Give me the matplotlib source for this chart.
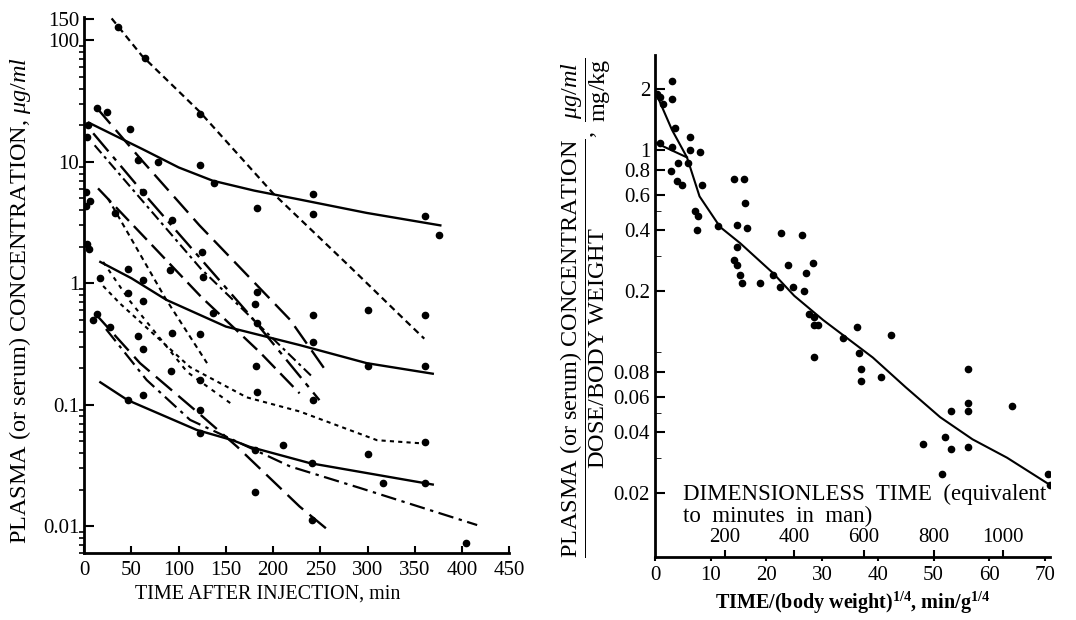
import matplotlib.pyplot as plt
from matplotlib.ticker import FixedLocator, FixedFormatter, NullFormatter, LogLocator

plt.rcParams['font.family'] = 'Liberation Serif'
plt.rcParams['mathtext.fontset'] = 'custom'
plt.rcParams['mathtext.rm'] = 'Liberation Serif'
plt.rcParams['mathtext.it'] = 'Liberation Serif:italic'
plt.rcParams['mathtext.bf'] = 'Liberation Serif:bold'

# ---- left panel: concentration vs time, several species (min, ug/ml)
t_a = [29, 61, 122, 200, 280, 337, 360]
c_a = [152, 75, 26, 5.5, 1.4, 0.52, 0.35]
t_b = [5, 62, 100, 136, 180, 228, 299, 377]
c_b = [21, 12.7, 9.0, 7.0, 5.8, 4.9, 3.8, 3.0]
t_c = [13, 60, 122, 218, 258]
c_c = [28, 10.5, 3.0, 0.50, 0.18]
t_d = [9.5, 69.5, 175, 249]
c_d = [17.2, 4.8, 0.55, 0.109]
t_e = [11, 123, 218, 240]
c_e = [13.7, 1.33, 0.255, 0.174]
t_f = [14.6, 124, 186, 228]
c_f = [6.05, 0.77, 0.27, 0.124]
t_f2 = [20, 48, 109, 157]
c_f2 = [1.5, 0.72, 0.186, 0.10]
t_f3 = [25, 34, 86, 130]
c_f3 = [5.0, 3.8, 0.75, 0.22]
t_g = [20, 38, 112, 172, 228, 310, 358]
c_g = [0.95, 0.68, 0.204, 0.115, 0.088, 0.051, 0.048]
t_h = [17, 50, 87, 150, 228, 299, 369]
c_h = [1.5, 1.1, 0.73, 0.44, 0.31, 0.22, 0.18]
t_k = [11, 59, 126, 162, 228, 258]
c_k = [0.57, 0.22, 0.079, 0.045, 0.0145, 0.0093]
t_l = [23, 66, 112, 218, 292, 416]
c_l = [0.42, 0.16, 0.075, 0.031, 0.0206, 0.0102]
t_m = [17, 46, 119, 157, 175, 239, 369]
c_m = [0.153, 0.109, 0.062, 0.051, 0.045, 0.033, 0.022]

# measured points
pt_t = [35.7, 64.3, 122.6, 24, 48.4, 122.6, 137.3, 182.8, 242, 242, 360.6, 375.4, 13.4,
        46.3, 62.1, 16.6, 46.3, 62.1, 90.7, 125.7, 182.8, 180.7, 242, 300.3, 360.6, 13.4,
        124.7, 92.8, 62.1, 56.8, 78, 32.5, 6, 27.2, 56.8, 62.1, 92.8, 91.8, 122.6, 122.6,
        136.2, 182.8, 181.8, 182.8, 242, 242, 300.3, 360.6, 360.6, 210.3, 300.3, 316.2,
        360.6, 241, 180.7, 122.6, 180.7, 241, 404.1, 46.3, 62.1, 122.6,
        2, 2, 3, 5, 3, 4, 9]
pt_c = [128, 72, 25, 26, 18.5, 9.4, 6.7, 4.2, 5.4, 3.7, 3.6, 2.5, 27.6,
        1.30, 1.06, 1.10, 0.83, 0.71, 1.28, 1.12, 0.84, 0.68, 0.55, 0.60, 0.55, 0.56,
        1.8, 3.3, 5.6, 10.3, 9.9, 3.8, 4.8, 0.44, 0.37, 0.29, 0.39, 0.19, 0.38, 0.16,
        0.57, 0.47, 0.21, 0.127, 0.109, 0.33, 0.21, 0.21, 0.049, 0.047, 0.039, 0.0226,
        0.0226, 0.033, 0.042, 0.059, 0.019, 0.0112, 0.0072, 0.109, 0.12, 0.090,
        5.6, 4.3, 2.1, 1.9, 16, 20, 0.5]

left_yticks = [0.01, 0.1, 1, 10, 100, 150]
left_ylabels = ['0.01', '0.1', '1', '10', '100', '150']

# ---- right panel: normalised concentration vs scaled time
rt = [0.5, 3.05, 5.75, 8.0, 11.7, 15.3, 21.2, 25.0, 30.2, 39.1, 45.0, 51.2, 57.0, 63.2, 70.9]
rc = [1.83, 1.26, 0.92, 0.59, 0.416, 0.346, 0.246, 0.19, 0.144, 0.094, 0.067, 0.0476,
      0.037, 0.030, 0.022]
rt2 = [0.3, 5.75]
rc2 = [1.08, 0.92]
rp_t = [3.1, 0.9, 3.0, 3.6, 6.2, 0.9, 3.0, 6.3, 8.0, 2.8, 3.9, 4.8, 4.2, 6.0, 8.4, 7.2, 7.8,
        7.6, 11.4, 14.1, 16.0, 16.2, 14.7, 16.5, 14.7, 14.1, 14.7, 15.2, 15.6, 18.9, 22.7,
        26.4, 23.9, 28.3, 27.2, 21.2, 22.4, 24.8, 26.8, 27.6, 28.5, 28.5, 29.3, 28.5, 33.7,
        36.3, 42.4, 36.6, 37.0, 37.0, 40.5, 48.2, 52.0, 53.1, 51.6, 53.1, 56.2, 56.2, 56.2,
        56.2, 64.0, 70.6, 70.9, 0.3, 1.5]
rp_c = [2.2, 1.84, 1.80, 1.28, 1.16, 1.08, 1.04, 1.0, 0.98, 0.79, 0.70, 0.67, 0.86, 0.86,
        0.67, 0.50, 0.47, 0.40, 0.42, 0.72, 0.72, 0.55, 0.425, 0.41, 0.33, 0.285, 0.27,
        0.24, 0.22, 0.22, 0.39, 0.38, 0.27, 0.275, 0.245, 0.24, 0.21, 0.21, 0.20, 0.155,
        0.15, 0.136, 0.136, 0.095, 0.117, 0.133, 0.122, 0.099, 0.082, 0.072, 0.075, 0.035,
        0.038, 0.033, 0.025, 0.051, 0.082, 0.056, 0.051, 0.034, 0.054, 0.025, 0.022,
        1.9, 1.7]
right_yticks = [0.02, 0.04, 0.06, 0.08, 0.2, 0.4, 0.6, 0.8, 1, 2]
right_ylabels = ['0.02', '0.04', '0.06', '0.08', '0.2', '0.4', '0.6', '0.8', '1', '2']
right_minor = [0.03, 0.05, 0.1, 0.3, 0.5]
man_ticks = [200, 400, 600, 800, 1000]

fig = plt.figure(figsize=(10.76, 6.2), dpi=100)

# ================= left
ax = fig.add_axes([0.0783, 0.108, 0.395, 0.8645])
ax.set_yscale('log')
lw = 1.7
ax.plot(t_a, c_a, color='k', lw=1.6, dashes=(3, 2))
ax.plot(t_b, c_b, color='k', lw=lw)
ax.plot(t_c, c_c, color='k', lw=lw, dashes=(9, 3.5))
ax.plot(t_d, c_d, color='k', lw=lw, dashes=(10, 3, 2, 3))
ax.plot(t_e, c_e, color='k', lw=1.5, dashes=(5, 2, 1.5, 2))
ax.plot(t_f, c_f, color='k', lw=lw, dashes=(8, 3))
ax.plot(t_f2, c_f2, color='k', lw=1.5, dashes=(2, 2.5))
ax.plot(t_f3, c_f3, color='k', lw=1.5, dashes=(2.5, 2))
ax.plot(t_g, c_g, color='k', lw=1.5, dashes=(2, 2))
ax.plot(t_h, c_h, color='k', lw=lw)
ax.plot(t_k, c_k, color='k', lw=lw, dashes=(9, 3.5))
ax.plot(t_l, c_l, color='k', lw=1.6, dashes=(7, 2.5, 1.5, 2.5))
ax.plot(t_m, c_m, color='k', lw=lw)
ax.plot(pt_t, pt_c, 'o', color='k', ms=4.5, ls='none')

ax.set_xlim(0, 450)
ax.set_ylim(0.006, 156)
ax.set_xticks(range(0, 451, 50))
ax.yaxis.set_major_locator(FixedLocator(left_yticks))
ax.yaxis.set_major_formatter(FixedFormatter(left_ylabels))
ax.yaxis.set_minor_locator(LogLocator(subs=range(2, 10)))
ax.yaxis.set_minor_formatter(NullFormatter())
for s in ['top', 'right']:
    ax.spines[s].set_visible(False)
for s in ['left', 'bottom']:
    ax.spines[s].set_linewidth(2)
ax.tick_params(direction='in', labelsize=15, width=1.5)
ax.tick_params(axis='y', which='major', length=7)
ax.tick_params(axis='y', which='minor', length=3.5, width=1.2)
ax.tick_params(axis='x', length=5, pad=6)
ax.set_xlabel('TIME AFTER INJECTION, min', fontsize=14.5)
ax.xaxis.set_label_coords(0.432, -0.058)
fig.text(0.019, 0.515, r'PLASMA (or serum) CONCENTRATION, $\mu g/ml$',
         rotation=90, ha='center', va='center', fontsize=17.5)

# ================= right
ax2 = fig.add_axes([0.6087, 0.102, 0.3676, 0.809])
ax2.set_yscale('log')
ax2.plot(rt, rc, color='k', lw=1.5)
ax2.plot(rt2, rc2, color='k', lw=1.5)
ax2.plot(rp_t, rp_c, 'o', color='k', ms=4.5, ls='none')
ax2.set_xlim(0, 71)
ax2.set_ylim(0.0097, 2.95)
ax2.set_xticks(range(0, 71, 10))
ax2.yaxis.set_major_locator(FixedLocator(right_yticks))
ax2.yaxis.set_major_formatter(FixedFormatter(right_ylabels))
ax2.yaxis.set_minor_locator(FixedLocator(right_minor))
ax2.yaxis.set_minor_formatter(NullFormatter())
for s in ['top', 'right']:
    ax2.spines[s].set_visible(False)
for s in ['left', 'bottom']:
    ax2.spines[s].set_linewidth(2)
ax2.tick_params(labelsize=15, width=1.5)
ax2.tick_params(axis='y', which='major', direction='in', length=7)
ax2.tick_params(axis='y', which='minor', direction='in', length=4)
ax2.tick_params(axis='x', direction='out', length=3, pad=4)
ax2.set_xlabel(r'TIME/(body weight)$^{\mathbf{1/4}}$, min/g$^{\mathbf{1/4}}$',
               fontsize=14.5, fontweight='bold', labelpad=3)

sec = ax2.secondary_xaxis(0.0, functions=(lambda x: x * 16.0, lambda x: x / 16.0))
sec.set_xticks(man_ticks)
sec.xaxis.set_ticks_position('top')
sec.tick_params(axis='x', direction='out', length=5, width=1.5, labelsize=15, pad=2)
for s in sec.spines.values():
    s.set_visible(False)

fig.text(683 / 1076, 1 - 494 / 620, 'DIMENSIONLESS  TIME  (equivalent',
         fontsize=16.5, ha='left', va='center')
fig.text(683 / 1076, 1 - 516 / 620, 'to  minutes  in  man)',
         fontsize=16.5, ha='left', va='center')

fig.text(586 / 1076, 1 - 308 / 620,
         r'$\dfrac{\mathrm{PLASMA\ (or\ serum)\ CONCENTRATION}}{\mathrm{DOSE/BODY\ WEIGHT}},\ '
         r'\dfrac{\mu g/ml}{\mathrm{mg/kg}}$',
         rotation=90, ha='center', va='center', fontsize=17.5)

fig.savefig('out.png', dpi=100)
